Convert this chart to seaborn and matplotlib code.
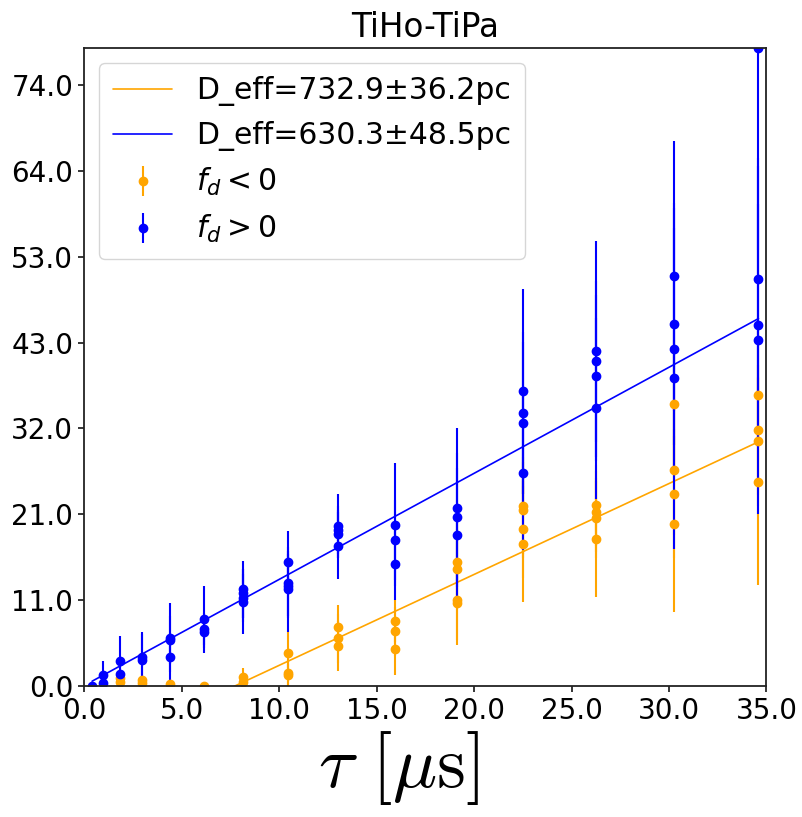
import numpy as np
import matplotlib
matplotlib.use("Agg")
import matplotlib.pyplot as plt
from matplotlib.lines import Line2D
import seaborn as sns
import pandas as pd

# ---------------- data ----------------
title = "TiHo-TiPa"

# f_d < 0 (orange)
neg_tau = [1.84, 1.84, 2.98, 2.98, 4.40, 6.15, 8.15, 8.15,
           10.44, 10.44, 10.44, 13.04, 13.04, 13.04, 15.93, 15.93, 15.93,
           19.10, 19.10, 19.10, 19.10, 22.51, 22.51, 22.51, 22.51,
           26.26, 26.26, 26.26, 26.26, 30.28, 30.28, 30.28, 30.28,
           34.59, 34.59, 34.59, 34.59]
neg_val = [0.95, 0.53, 0.74, 0.37, 0.30, 0.04, 1.15, 0.53,
           4.13, 1.57, 1.36, 7.26, 5.90, 4.95, 8.05, 6.77, 4.62,
           15.4, 14.5, 10.65, 10.3, 22.3, 21.8, 19.4, 17.6,
           22.4, 21.6, 20.8, 18.2, 34.9, 26.7, 23.8, 20.1,
           36.0, 31.7, 30.3, 25.3]
neg_err = [0.5, 0.5, 0.5, 0.4, 0.3, 0.2, 1.12, 0.5,
           2.57, 1.6, 1.4, 2.74, 3.0, 3.09, 2.6, 3.0, 3.26,
           5.0, 5.0, 5.0, 5.22, 6.0, 6.0, 6.0, 7.2,
           5.0, 5.0, 5.0, 7.14, 8.0, 8.0, 8.0, 10.9,
           8.0, 8.0, 8.0, 12.8]

# f_d > 0 (blue)
pos_tau = [0.40, 0.98, 0.98, 1.84, 1.84, 2.98, 2.98, 4.40, 4.40, 4.40,
           6.15, 6.15, 6.15, 8.15, 8.15, 8.15, 8.15,
           10.44, 10.44, 10.44, 10.44, 13.04, 13.04, 13.04, 13.04,
           15.93, 15.93, 15.93, 19.10, 19.10, 19.10,
           22.51, 22.51, 22.51, 22.51, 26.26, 26.26, 26.26, 26.26,
           30.28, 30.28, 30.28, 30.28, 34.59, 34.59, 34.59, 34.59]
pos_val = [0.0, 1.36, 0.33, 3.13, 1.45, 3.55, 3.20, 6.00, 5.70, 3.55,
           8.25, 7.06, 6.73, 11.97, 11.47, 10.93, 10.44,
           15.4, 12.7, 12.4, 11.97, 19.8, 19.3, 18.8, 17.37,
           19.97, 18.07, 15.1, 22.07, 20.88, 18.7,
           36.5, 33.8, 32.6, 26.4, 41.5, 40.2, 38.4, 34.4,
           50.8, 44.85, 41.7, 38.1, 79.0, 50.4, 44.65, 42.8]
pos_err = [0.4, 1.75, 0.8, 3.07, 1.4, 3.15, 3.2, 4.3, 3.0, 3.0,
           4.15, 2.0, 2.0, 3.53, 3.0, 3.0, 4.04,
           3.8, 4.0, 4.0, 5.27, 4.0, 3.0, 3.0, 4.17,
           7.63, 5.0, 4.45, 9.83, 8.0, 8.3,
           12.7, 10.0, 10.0, 9.6, 13.6, 10.0, 10.0, 11.2,
           16.7, 15.0, 15.0, 21.14, 25.0, 15.0, 15.0, 21.55]

# fitted lines (end points)
fit_tau = [0.40, 34.59]
fit_neg = [-8.24, 30.24]
fit_pos = [0.60, 45.50]
label_fit_neg = "D_eff=732.9±36.2pc"
label_fit_pos = "D_eff=630.3±48.5pc"
label_neg = r"$f_d < 0$"
label_pos = r"$f_d > 0$"

xtick_vals = [0, 5, 10, 15, 20, 25, 30, 35]
ytick_vals = [0, 10.63, 21.26, 31.89, 42.52, 53.15, 63.78, 74.41]
ytick_labels = ["0.0", "11.0", "21.0", "32.0", "43.0", "53.0", "64.0", "74.0"]

# ---------------- plot ----------------
sns.set_style("ticks")
plt.rcParams["font.family"] = ["DejaVu Sans"]
plt.rcParams["mathtext.fontset"] = "dejavusans"
for k in ["text.color", "axes.labelcolor", "xtick.color", "ytick.color",
          "axes.edgecolor"]:
    plt.rcParams[k] = "black"

fig = plt.figure(figsize=(8.03, 8.17), dpi=100)
ax = fig.add_axes([0.105, 0.1603, 0.8495, 0.7809])

fit_df = pd.DataFrame({"tau": fit_tau * 2,
                       "val": fit_neg + fit_pos,
                       "grp": [label_fit_neg] * 2 + [label_fit_pos] * 2})
sns.lineplot(data=fit_df, x="tau", y="val", hue="grp",
             palette={label_fit_neg: "orange", label_fit_pos: "blue"},
             linewidth=1.2, ax=ax, legend=False)

eb_neg = ax.errorbar(neg_tau, neg_val, yerr=neg_err, fmt="o", color="orange",
                     ms=6, elinewidth=1.5, label=label_neg)
eb_pos = ax.errorbar(pos_tau, pos_val, yerr=pos_err, fmt="o", color="blue",
                     ms=6, elinewidth=1.5, label=label_pos)

ax.set_xlim(0, 35)
ax.set_ylim(0, 79.0)
ax.set_xticks(xtick_vals)
ax.set_xticklabels([f"{v:.1f}" for v in xtick_vals])
ax.set_yticks(ytick_vals)
ax.set_yticklabels(ytick_labels)
ax.tick_params(labelsize=20, length=4.5, width=1.1, colors="black")
for s in ax.spines.values():
    s.set_linewidth(1.3)
    s.set_color("#222222")

ax.set_title(title, fontsize=23.5, pad=8)
ax.set_ylabel("")
ax.set_xlabel(r"$\tau\ [\mu\mathrm{s}]$", fontsize=53, math_fontfamily="cm")
ax.xaxis.set_label_coords(0.46, -0.068, transform=ax.transAxes)
ax.xaxis.label.set_va("top")

h1 = Line2D([], [], color="orange", lw=1.2)
h2 = Line2D([], [], color="blue", lw=1.2)
ax.legend([h1, h2, eb_neg, eb_pos],
          [label_fit_neg, label_fit_pos, label_neg, label_pos],
          loc="upper left", fontsize=21.5, handlelength=2.0,
          labelspacing=0.5, borderpad=0.45, framealpha=0.8)

fig.savefig("out.png", dpi=100)
